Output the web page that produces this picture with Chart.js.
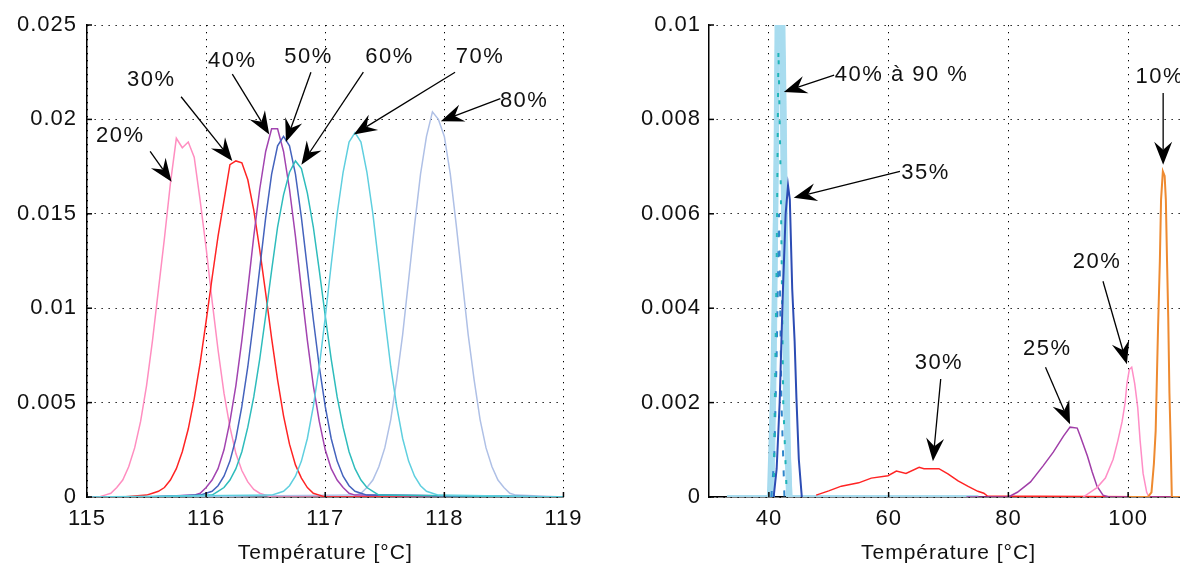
<!DOCTYPE html>
<html lang="fr">
<head>
  <meta charset="UTF-8" />
  <title>Densité - Température</title>
  <script src="https://cdn.jsdelivr.net/npm/chart.js"></script>
  <style>
    html, body { margin: 0; padding: 0; background: #fff; overflow: hidden; }
    .panel { position: absolute; top: 0; }
    #left { left: 0; }
    #right { left: 600px; }
  </style>
</head>
<body>
  <div class="panel" id="left"><canvas id="chartLeft" width="590" height="570"></canvas></div>
  <div class="panel" id="right"><canvas id="chartRight" width="590" height="570"></canvas></div>

  <script>
    // ---- panneau gauche : pics entre 115 et 119 °C ----
    const leftXTicks = [115, 116, 117, 118, 119];
    const leftYTicks = [0, 0.005, 0.01, 0.015, 0.02, 0.025];
    const leftYLabels = ['0', '0.005', '0.01', '0.015', '0.02', '0.025'];

    const t20 = [115.0, 115.1, 115.15, 115.2, 115.25, 115.3, 115.35, 115.4, 115.45, 115.5, 115.55, 115.6, 115.65, 115.7, 115.75, 115.8, 115.85, 115.9, 115.95, 116.0, 116.05, 116.1, 116.15, 116.2, 116.25, 116.3, 116.35, 116.4, 116.45, 116.5, 116.55, 119.0];
    const d20 = [0, 0, 0.0001, 0.0002, 0.0005, 0.0009, 0.0016, 0.0026, 0.0040, 0.0059, 0.0083, 0.0110, 0.0137, 0.0166, 0.0190, 0.0185, 0.0188, 0.0180, 0.0157, 0.0132, 0.0104, 0.0078, 0.0055, 0.0037, 0.0023, 0.0014, 0.0008, 0.0004, 0.0002, 0.0001, 0, 0];

    const t30 = [115.3, 115.5, 115.55, 115.6, 115.65, 115.7, 115.75, 115.8, 115.85, 115.9, 115.95, 116.0, 116.05, 116.1, 116.15, 116.2, 116.25, 116.3, 116.35, 116.4, 116.45, 116.5, 116.55, 116.6, 116.65, 116.7, 116.75, 116.8, 116.85, 116.9, 116.95, 117.0, 119.0];
    const d30 = [0, 0.0001, 0.0002, 0.0003, 0.0005, 0.0009, 0.0015, 0.0024, 0.0036, 0.0052, 0.0071, 0.0093, 0.0116, 0.0138, 0.0157, 0.0176, 0.0178, 0.0177, 0.0168, 0.0152, 0.0131, 0.0108, 0.0084, 0.0062, 0.0043, 0.0028, 0.0017, 0.0010, 0.0005, 0.0002, 0.0001, 0, 0];

    const t40 = [115.5, 115.9, 115.95, 116.0, 116.05, 116.1, 116.15, 116.2, 116.25, 116.3, 116.35, 116.4, 116.45, 116.5, 116.55, 116.6, 116.65, 116.7, 116.75, 116.8, 116.85, 116.9, 116.95, 117.0, 117.05, 117.1, 117.15, 117.2, 117.25, 119.0];
    const d40 = [0, 0.0001, 0.0002, 0.0005, 0.0009, 0.0015, 0.0025, 0.0040, 0.0059, 0.0083, 0.0110, 0.0138, 0.0163, 0.0183, 0.0195, 0.0195, 0.0183, 0.0163, 0.0138, 0.0110, 0.0083, 0.0059, 0.0040, 0.0025, 0.0015, 0.0009, 0.0005, 0.0002, 0.0001, 0];

    const t50 = [115.5, 115.95, 116.0, 116.05, 116.1, 116.15, 116.2, 116.25, 116.3, 116.35, 116.4, 116.45, 116.5, 116.55, 116.6, 116.65, 116.7, 116.75, 116.8, 116.85, 116.9, 116.95, 117.0, 117.05, 117.1, 117.15, 117.2, 117.25, 117.3, 117.35, 119.0];
    const d50 = [0, 0.0001, 0.0002, 0.0003, 0.0006, 0.0011, 0.0019, 0.0031, 0.0048, 0.0069, 0.0094, 0.0121, 0.0148, 0.0171, 0.0186, 0.0191, 0.0186, 0.0171, 0.0148, 0.0121, 0.0094, 0.0069, 0.0048, 0.0031, 0.0019, 0.0011, 0.0006, 0.0003, 0.0002, 0.0001, 0];

    const t60 = [115.5, 116.05, 116.1, 116.15, 116.2, 116.25, 116.3, 116.35, 116.4, 116.45, 116.5, 116.55, 116.6, 116.65, 116.7, 116.75, 116.8, 116.85, 116.9, 116.95, 117.0, 117.05, 117.1, 117.15, 117.2, 117.25, 117.3, 117.35, 117.4, 117.45, 119.0];
    const d60 = [0, 0.0001, 0.0003, 0.0005, 0.0009, 0.0015, 0.0024, 0.0037, 0.0053, 0.0073, 0.0096, 0.0120, 0.0143, 0.0160, 0.0172, 0.0178, 0.0174, 0.0161, 0.0143, 0.0120, 0.0096, 0.0073, 0.0053, 0.0037, 0.0024, 0.0015, 0.0009, 0.0005, 0.0003, 0.0001, 0];

    const t70 = [115.0, 116.55, 116.6, 116.65, 116.7, 116.75, 116.8, 116.85, 116.9, 116.95, 117.0, 117.05, 117.1, 117.15, 117.2, 117.25, 117.3, 117.35, 117.4, 117.45, 117.5, 117.55, 117.6, 117.65, 117.7, 117.75, 117.8, 117.85, 117.9, 117.95, 119.0];
    const d70 = [0, 0.0001, 0.0002, 0.0003, 0.0006, 0.0011, 0.0019, 0.0031, 0.0048, 0.0069, 0.0095, 0.0123, 0.0150, 0.0172, 0.0188, 0.0193, 0.0188, 0.0172, 0.0150, 0.0123, 0.0095, 0.0069, 0.0048, 0.0031, 0.0019, 0.0011, 0.0006, 0.0003, 0.0002, 0.0001, 0];

    const t80 = [115.5, 117.25, 117.3, 117.35, 117.4, 117.45, 117.5, 117.55, 117.6, 117.65, 117.7, 117.75, 117.8, 117.85, 117.9, 117.95, 118.0, 118.05, 118.1, 118.15, 118.2, 118.25, 118.3, 118.35, 118.4, 118.45, 118.5, 118.55, 118.6, 119.0];
    const d80 = [0, 0.0001, 0.0002, 0.0005, 0.0009, 0.0016, 0.0026, 0.0041, 0.0062, 0.0086, 0.0115, 0.0144, 0.0171, 0.0191, 0.0204, 0.0200, 0.0191, 0.0171, 0.0144, 0.0115, 0.0086, 0.0062, 0.0041, 0.0026, 0.0016, 0.0009, 0.0005, 0.0002, 0.0001, 0];

    // ---- panneau droit : 10 % à 90 % entre 30 et 110 °C ----
    const rightXTicks = [40, 60, 80, 100];
    const rightYTicks = [0, 0.002, 0.004, 0.006, 0.008, 0.01];
    const rightYLabels = ['0', '0.002', '0.004', '0.006', '0.008', '0.01'];

    const r40t = [33, 40.2, 40.7, 41.2, 41.6, 41.9, 42.2, 42.6, 43.0, 43.3, 43.6, 75];
    const r40d = [0, 0, 0.0015, 0.0060, 0.0110, 0.0150, 0.0120, 0.0085, 0.0040, 0.0010, 0, 0];
    const r50t = [40.2, 40.7, 41.1, 41.4, 41.7, 42.0, 42.3, 42.7, 43.2];
    const r50d = [0, 0.0020, 0.0070, 0.0120, 0.0160, 0.0130, 0.0070, 0.0020, 0];
    const r60t = [40.6, 41.0, 41.4, 41.8, 42.1, 42.5, 42.9, 43.2, 43.6];
    const r60d = [0, 0.0030, 0.0080, 0.0140, 0.0110, 0.0088, 0.0050, 0.0015, 0];
    const r70t = [40.0, 40.6, 41.2, 41.6, 42.0, 42.4, 42.8, 43.4];
    const r70d = [0, 0.0025, 0.0075, 0.0130, 0.0105, 0.0060, 0.0018, 0];
    const r80t = [40.8, 41.3, 41.6, 42.0, 42.4, 43.0];
    const r80d = [0, 0.0050, 0.0095, 0.0065, 0.0020, 0];
    const r90t = [40.4, 40.9, 41.3, 41.7, 42.1, 42.6];
    const r90d = [0, 0.0008, 0.0030, 0.0060, 0.0020, 0];

    const r35t = [40.8, 41.3, 41.8, 42.3, 42.8, 43.2, 43.5, 43.9, 44.3, 44.6, 45.0, 45.5];
    const r35d = [0, 0.0006, 0.0020, 0.0042, 0.0060, 0.0066, 0.0063, 0.0044, 0.0033, 0.0021, 0.0008, 0];

    const r30t = [47.9, 50.0, 52.1, 55.0, 57.1, 59.9, 61.3, 62.9, 65.1, 65.9, 68.4, 69.9, 71.6, 73.2, 74.9, 75.9, 76.5, 110];
    const r30d = [0.00004, 0.00013, 0.00023, 0.0003, 0.0004, 0.00045, 0.00055, 0.0005, 0.00063, 0.0006, 0.0006, 0.00049, 0.00034, 0.00023, 0.00012, 0.00008, 0.00002, 0];

    const r25t = [73, 80.0, 81.5, 83.7, 85.8, 87.5, 89.2, 90.3, 91.5, 92.0, 93.2, 94.0, 94.8, 95.8, 96.8, 110];
    const r25d = [0, 0, 0.0001, 0.00032, 0.00066, 0.00095, 0.00129, 0.00148, 0.00146, 0.00129, 0.00087, 0.00053, 0.00023, 0.00004, 0, 0];

    const r20t = [92.5, 94.8, 96.2, 97.5, 98.3, 99.0, 99.5, 99.8, 100.2, 100.6, 101.1, 101.6, 102.0, 102.5, 103.1, 103.5];
    const r20d = [0, 0.0002, 0.0004, 0.0008, 0.0012, 0.0016, 0.0020, 0.0024, 0.0027, 0.00275, 0.0024, 0.0019, 0.0012, 0.0005, 0.0001, 0];

    const r10t = [100, 103.3, 103.9, 104.3, 104.6, 104.8, 105.0, 105.3, 105.5, 105.8, 106.1, 106.3, 106.5, 106.7, 106.9, 107.1, 107.3, 110];
    const r10d = [0, 0, 0.0001, 0.0007, 0.0014, 0.0025, 0.0036, 0.0050, 0.0063, 0.0069, 0.0068, 0.0063, 0.0050, 0.0038, 0.0022, 0.0012, 0, 0];

    const xTitle = 'Température [°C]';

    // étiquettes + flèches (coordonnées en unités des axes)
    const leftNotes = [
      { text: '20%', tx: 115.28, ty: 0.0191, fx: 115.53, fy: 0.0183, px: 115.71, py: 0.0167 },
      { text: '30%', tx: 115.54, ty: 0.0221, fx: 115.79, fy: 0.0212, px: 116.22, py: 0.0178 },
      { text: '40%', tx: 116.22, ty: 0.0231, fx: 116.22, fy: 0.0224, px: 116.53, py: 0.0192 },
      { text: '50%', tx: 116.86, ty: 0.0233, fx: 116.88, fy: 0.0225, px: 116.67, py: 0.0188 },
      { text: '60%', tx: 117.54, ty: 0.0233, fx: 117.32, fy: 0.0225, px: 116.80, py: 0.0176 },
      { text: '70%', tx: 118.30, ty: 0.0233, fx: 118.09, fy: 0.0225, px: 117.24, py: 0.0192 },
      { text: '80%', tx: 118.67, ty: 0.0210, fx: 118.47, fy: 0.0211, px: 117.97, py: 0.0199 }
    ];
    const rightNotes = [
      { text: '40% à 90 %', align: 'left', tx: 51.0, ty: 0.00894, fx: 50.9, fy: 0.00894, px: 42.5, py: 0.00858 },
      { text: '35%', align: 'left', tx: 62.1, ty: 0.00687, fx: 61.9, fy: 0.0069, px: 44.15, py: 0.00634 },
      { text: '10%', tx: 105.3, ty: 0.0089, fx: 105.85, fy: 0.00856, px: 105.85, py: 0.00704 },
      { text: '20%', tx: 94.8, ty: 0.00497, fx: 95.8, fy: 0.00457, px: 99.8, py: 0.00281 },
      { text: '25%', tx: 86.5, ty: 0.00313, fx: 86.2, fy: 0.00275, px: 90.3, py: 0.00154 },
      { text: '30%', tx: 68.4, ty: 0.00285, fx: 68.7, fy: 0.0025, px: 67.4, py: 0.00076 }
    ];

    Chart.defaults.font.family = '"Liberation Sans", Arial, sans-serif';
    Chart.defaults.color = '#222';

    function pts(t, d) {
      return t.map((v, i) => ({ x: v, y: d[i] }));
    }

    function serie(t, d, color, extra) {
      return Object.assign({
        data: pts(t, d),
        borderColor: color,
        borderWidth: 1.5,
        pointRadius: 0,
        fill: false,
        tension: 0
      }, extra || {});
    }

    function drawArrow(ctx, x0, y0, x1, y1) {
      const a = Math.atan2(y1 - y0, x1 - x0);
      const c = Math.cos(a), s = Math.sin(a);
      const len = 23, half = 9, notch = 15;
      ctx.beginPath();
      ctx.moveTo(x0, y0);
      ctx.lineTo(x1 - c * notch, y1 - s * notch);
      ctx.stroke();
      const bx = x1 - c * len, by = y1 - s * len;
      ctx.beginPath();
      ctx.moveTo(x1, y1);
      ctx.lineTo(bx + s * half, by - c * half);
      ctx.lineTo(x1 - c * notch, y1 - s * notch);
      ctx.lineTo(bx - s * half, by + c * half);
      ctx.closePath();
      ctx.fill();
    }

    function notesPlugin(notes) {
      return {
        id: 'notes',
        beforeDraw(chart) {
          chart.ctx.letterSpacing = '1px';
        },
        afterDraw(chart) {
          const { ctx, chartArea, scales: { x, y } } = chart;
          ctx.save();
          // petites graduations vers l'intérieur
          ctx.strokeStyle = '#000';
          ctx.lineWidth = 1.5;
          x.ticks.forEach(t => {
            const px = x.getPixelForValue(t.value);
            ctx.beginPath(); ctx.moveTo(px, chartArea.bottom); ctx.lineTo(px, chartArea.bottom - 5); ctx.stroke();
          });
          y.ticks.forEach(t => {
            const py = y.getPixelForValue(t.value);
            ctx.beginPath(); ctx.moveTo(chartArea.left, py); ctx.lineTo(chartArea.left + 5, py); ctx.stroke();
          });
          // flèches et textes
          ctx.lineWidth = 1.3;
          ctx.strokeStyle = '#000';
          ctx.fillStyle = '#000';
          notes.forEach(n => {
            drawArrow(ctx, x.getPixelForValue(n.fx), y.getPixelForValue(n.fy),
              x.getPixelForValue(n.px), y.getPixelForValue(n.py));
          });
          ctx.font = '22px "Liberation Sans", Arial, sans-serif';
          ctx.letterSpacing = '1.5px';
          ctx.textBaseline = 'middle';
          ctx.fillStyle = '#111';
          notes.forEach(n => {
            ctx.textAlign = n.align || 'center';
            ctx.fillText(n.text, x.getPixelForValue(n.tx), y.getPixelForValue(n.ty));
          });
          ctx.restore();
        }
      };
    }

    function axes(xMin, xMax, xTicks, yMax, yTicks, yLabels, yWidth, yPad) {
      const dotted = { display: true, color: '#000', width: 1.5, dash: [1.3, 5.7] };
      return {
        x: {
          type: 'linear', min: xMin, max: xMax,
          afterBuildTicks: s => { s.ticks = xTicks.map(v => ({ value: v })); },
          afterFit: s => { s.height = 73; },
          grid: { color: '#000', lineWidth: 1, drawTicks: false },
          border: dotted,
          ticks: { padding: 9, font: { size: 22 }, color: '#111', callback: v => String(v) },
          title: { display: true, text: xTitle, font: { size: 21 }, color: '#111', padding: { top: 0, bottom: 4 } }
        },
        y: {
          type: 'linear', min: 0, max: yMax,
          afterBuildTicks: s => { s.ticks = yTicks.map(v => ({ value: v })); },
          afterFit: s => { s.width = yWidth; },
          grid: { color: '#000', lineWidth: 1, drawTicks: false },
          border: dotted,
          ticks: { padding: yPad, font: { size: 22 }, color: '#111', callback: (v, i) => yLabels[i] }
        }
      };
    }

    new Chart(document.getElementById('chartLeft'), {
      type: 'line',
      data: {
        datasets: [
          serie(t70, d70, '#5fcfdf'),
          serie(t60, d60, '#2ebcbc'),
          serie(t50, d50, '#4463bd'),
          serie(t40, d40, '#a244b0'),
          serie(t30, d30, '#ff2424'),
          serie(t20, d20, '#ff8ec0'),
          serie(t80, d80, '#afc0e6')
        ]
      },
      options: {
        responsive: false,
        animation: false,
        layout: { padding: { top: 25, right: 24, left: 0, bottom: 0 } },
        plugins: { legend: { display: false }, tooltip: { enabled: false } },
        scales: axes(115, 119, leftXTicks, 0.025, leftYTicks, leftYLabels, 87, 10)
      },
      plugins: [notesPlugin(leftNotes)]
    });

    new Chart(document.getElementById('chartRight'), {
      type: 'line',
      data: {
        datasets: [
          serie(r10t, r10d, '#ee8a30', { borderWidth: 2 }),
          serie(r20t, r20d, '#ff8ec6'),
          serie(r25t, r25d, '#a03ea8'),
          serie(r30t, r30d, '#ff2424'),
          serie(r35t, r35d, '#2c4cb4', { borderWidth: 2 }),
          serie(r80t, r80d, '#20b4b8', { borderWidth: 2, borderDash: [4, 16] }),
          serie(r90t, r90d, '#2f86cc', { borderWidth: 2, borderDash: [6, 14] }),
          serie(r40t, r40d, '#a8dcef', { borderWidth: 4 }),
          serie(r50t, r50d, '#a8dcef', { borderWidth: 4 }),
          serie(r60t, r60d, '#addff1', { borderWidth: 4 }),
          serie(r70t, r70d, '#a4d9ee', { borderWidth: 4 })
        ]
      },
      options: {
        responsive: false,
        animation: false,
        layout: { padding: { top: 25, right: 2, left: 0, bottom: 0 } },
        plugins: { legend: { display: false }, tooltip: { enabled: false } },
        scales: axes(30, 110, rightXTicks, 0.01, rightYTicks, rightYLabels, 109, 8)
      },
      plugins: [notesPlugin(rightNotes)]
    });
  </script>
</body>
</html>
